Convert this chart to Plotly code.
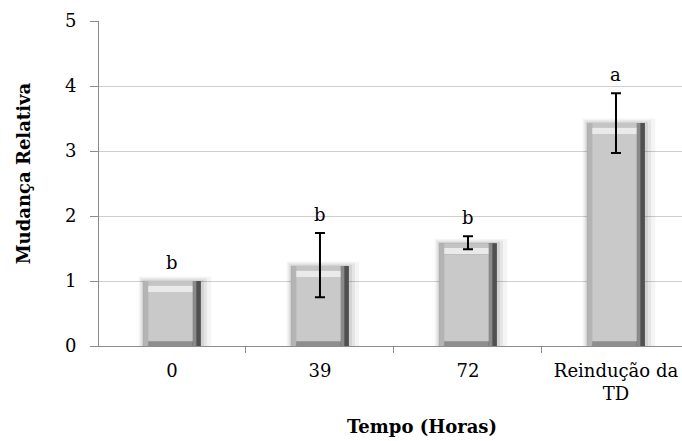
import plotly.graph_objects as go

categories = ["0", "39", "72", "Reindução da<br>TD"]
values = [1.0, 1.23, 1.58, 3.43]
err_plus = [None, 0.51, 0.11, 0.46]
err_minus = [None, 0.48, 0.09, 0.46]
letters = ["b", "b", "b", "a"]
y_ticks = [0, 1, 2, 3, 4, 5]

idx = list(range(len(categories)))
SERIF = "DejaVu Serif"

# bar geometry (in axis units)
w = 0.39
dl, dr = 0.034, 0.055
bt, bb = 0.17, 0.075

fig = go.Figure()

# soft halo / shadow
for extra, alpha in [(0.05, 0.045), (0.03, 0.06), (0.015, 0.08)]:
    fig.add_trace(go.Bar(x=idx, y=[v + extra * 1.4 for v in values], width=w + 2 * extra,
                         offset=-w / 2 - extra * 0.6, marker=dict(color=f"rgba(0,0,0,{alpha})", line_width=0),
                         hoverinfo="skip", showlegend=False))
# outer body (bottom bevel colour)
fig.add_trace(go.Bar(x=idx, y=values, width=w, offset=-w / 2,
                     marker=dict(color="#8e8e8e", line_width=0), showlegend=False, hoverinfo="skip"))
# left bevel
fig.add_trace(go.Bar(x=idx, y=values, width=dl, offset=-w / 2,
                     marker=dict(color="#b4b4b4", line_width=0), showlegend=False, hoverinfo="skip"))
# right bevel
fig.add_trace(go.Bar(x=idx, y=values, width=dr, offset=w / 2 - dr,
                     marker=dict(color="#505050", line_width=0), showlegend=False, hoverinfo="skip"))
fig.add_trace(go.Bar(x=idx, y=values, width=dr * 0.45, offset=w / 2 - dr,
                     marker=dict(color="#8a8a8a", line_width=0), showlegend=False, hoverinfo="skip"))
# top bevel
fig.add_trace(go.Bar(x=idx, y=[bt * 0.4] * len(values), base=[v - bt * 0.4 for v in values],
                     width=w - dl - dr, offset=-w / 2 + dl,
                     marker=dict(color="#c4c4c4", line_width=0), showlegend=False, hoverinfo="skip"))
fig.add_trace(go.Bar(x=idx, y=[bt * 0.6] * len(values), base=[v - bt for v in values],
                     width=w - dl - dr, offset=-w / 2 + dl,
                     marker=dict(color="#eaeaea", line_width=0), showlegend=False, hoverinfo="skip"))
# face
fig.add_trace(go.Bar(x=idx, y=[v - bt - bb for v in values], base=[bb] * len(values),
                     width=w - dl - dr, offset=-w / 2 + dl,
                     marker=dict(color="#c9c9c9", line_width=0), showlegend=False, hoverinfo="skip"))
# error bars (only where an error is given)
has_err = [i for i in idx if err_plus[i] is not None]
fig.add_trace(go.Scatter(x=has_err, y=[values[i] for i in has_err], mode="markers",
                         marker=dict(opacity=0, size=1),
                         error_y=dict(type="data", symmetric=False,
                                      array=[err_plus[i] for i in has_err],
                                      arrayminus=[err_minus[i] for i in has_err],
                                      color="black", thickness=2, width=5),
                         showlegend=False, hoverinfo="skip"))

for i, (v, ep, L) in enumerate(zip(values, err_plus, letters)):
    fig.add_annotation(x=i, y=v + (ep or 0), xref="x", yref="y", text=L, showarrow=False,
                       yanchor="bottom", yshift=6, font=dict(family=SERIF, size=18, color="black"))

fig.add_annotation(x=-0.13, y=0.532, xref="paper", yref="paper", text="<b>Mudança Relativa</b>",
                   textangle=-90, showarrow=False, xanchor="center", yanchor="middle",
                   font=dict(family=SERIF, size=18, color="black"))
fig.add_annotation(x=0.554, y=-0.208, xref="paper", yref="paper", text="<b>Tempo (Horas)</b>",
                   showarrow=False, xanchor="center", yanchor="top",
                   font=dict(family=SERIF, size=18, color="black"))

fig.update_layout(
    width=682, height=441, barmode="overlay",
    margin=dict(l=99, r=0, t=21, b=95),
    paper_bgcolor="white", plot_bgcolor="white",
    font=dict(family=SERIF),
    xaxis=dict(range=[-0.493, 3.446], tickmode="array", tickvals=idx, ticktext=categories, ticks="",
               showgrid=False, zeroline=False, showline=True, linecolor="#8c8c8c", linewidth=1,
               tickfont=dict(family=SERIF, size=18, color="black"), ticklabelstandoff=8,
               minor=dict(tickmode="array", tickvals=[-0.5, 0.5, 1.5, 2.5], ticks="outside",
                          ticklen=6, tickcolor="#8c8c8c", tickwidth=1, showgrid=False)),
    yaxis=dict(range=[0, 5], tickmode="array", tickvals=y_ticks, ticks="outside", ticklen=8,
               tickcolor="#8c8c8c", showline=True, linecolor="#8c8c8c", linewidth=1,
               showgrid=True, gridcolor="#cfcfcf", gridwidth=1, zeroline=False,
               tickfont=dict(family=SERIF, size=18, color="black"), ticklabelstandoff=10),
)

fig.write_html("out.html")
